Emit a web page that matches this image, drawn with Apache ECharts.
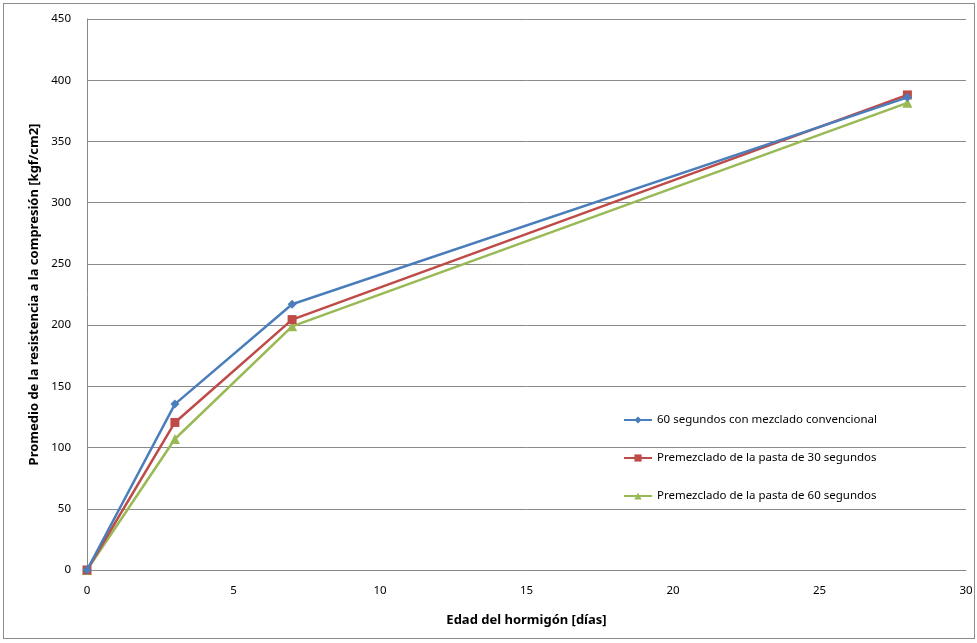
<!DOCTYPE html>
<html><head><meta charset="utf-8">
<script src="https://cdn.jsdelivr.net/npm/echarts@6/dist/echarts.min.js"></script>
<style>
html,body{margin:0;padding:0;background:#fff;}
#frame{position:absolute;left:3px;top:3px;width:970px;height:634px;border:1px solid #8c8c8c;}
#c{position:absolute;left:0;top:0;width:977px;height:643px;}
</style></head><body>
<div id="frame"></div>
<div id="c"></div>
<script>
const days = [0, 3, 7, 28];
const seriesNames = ['60 segundos con mezclado convencional','Premezclado de la pasta de 30 segundos','Premezclado de la pasta de 60 segundos'];
const conv60 = [0, 135.5, 217, 386];
const pasta30 = [0, 120.5, 204.5, 388];
const pasta60 = [0, 107, 199, 381.5];
const yTitle = 'Promedio de la resistencia a la compresión [kgf/cm2]';
const xTitle = 'Edad del hormigón [días]';

const colors = ['#4a7ebb','#be4b48','#98b954'];
const symbols = ['diamond','rect','triangle'];
const sizes = [9, 9, 10];
const values = [conv60, pasta30, pasta60];
const font = 'Noto Sans';

const chart = echarts.init(document.getElementById('c'));
chart.setOption({
  animation:false,
  grid:{left:87,right:11,top:19,bottom:73},
  legend:{
    orient:'vertical', left:618, top:409, itemGap:26, itemWidth:28, itemHeight:9,
    data:seriesNames,
    textStyle:{fontFamily:font,fontSize:11.5,color:'#000'}
  },
  xAxis:{
    type:'value', min:0, max:30, interval:5,
    name:xTitle, nameLocation:'middle', nameGap:44,
    nameTextStyle:{fontFamily:font,fontSize:13,fontWeight:'bold',color:'#000'},
    axisLine:{show:true,onZero:false,lineStyle:{color:'#888',width:1}},
    axisTick:{show:false},
    splitLine:{show:false},
    axisLabel:{fontFamily:font,fontSize:11.5,color:'#000',margin:15}
  },
  yAxis:{
    type:'value', min:0, max:450, interval:50,
    name:yTitle, nameLocation:'middle', nameGap:46,
    nameTextStyle:{fontFamily:font,fontSize:13,fontWeight:'bold',color:'#000'},
    axisLine:{show:true,lineStyle:{color:'#888',width:1}},
    axisTick:{show:false},
    splitLine:{show:true,lineStyle:{color:'#8a8a8a',width:1}},
    axisLabel:{fontFamily:font,fontSize:11.5,color:'#000',margin:16}
  },
  series: seriesNames.map((n,i)=>({
    name:n, type:'line',
    data: days.map((d,j)=>[d, values[i][j]]),
    symbol:symbols[i], symbolSize:sizes[i], showSymbol:true,
    lineStyle:{color:colors[i],width:2.5},
    itemStyle:{color:colors[i]},
    z: 3 - i
  }))
});
</script>
</body></html>
